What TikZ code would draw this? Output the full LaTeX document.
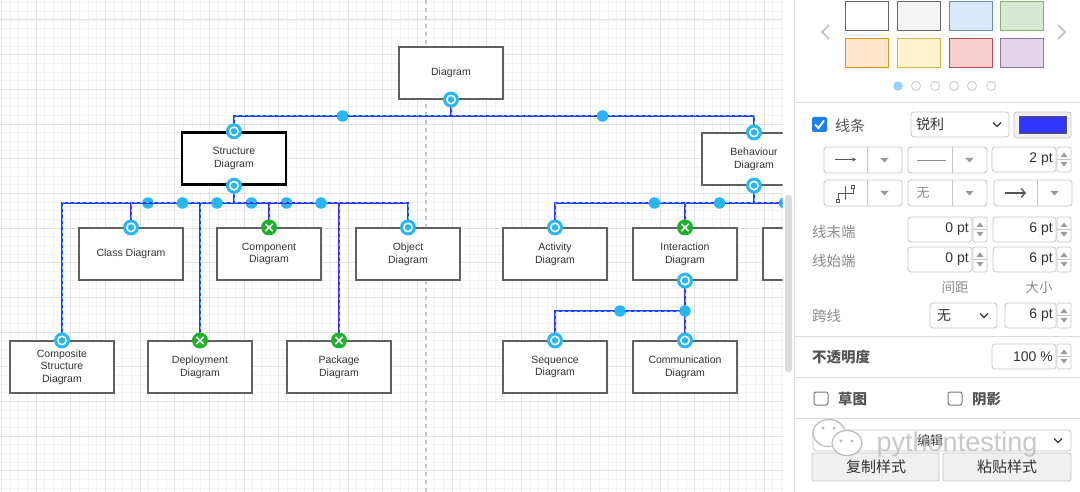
\documentclass[tikz,border=0pt]{standalone}
\usepackage{fontspec}
\setmainfont{Liberation Sans}
\newfontfamily\cjk{Noto Sans CJK SC}
\usetikzlibrary{positioning,arrows.meta}

\definecolor{edgeblue}{HTML}{3333FF}
\definecolor{hblue}{HTML}{29B6F2}
\definecolor{hgreen}{HTML}{1DB02B}
\definecolor{boxgray}{HTML}{606060}
\definecolor{txtdark}{HTML}{333333}
\definecolor{gridmin}{HTML}{F3F3F3}
\definecolor{gridmaj}{HTML}{E2E2E2}
\definecolor{pageline}{HTML}{C9C9C9}
\definecolor{panelline}{HTML}{DCDCDC}
\definecolor{widgetline}{HTML}{C6C6C6}
\definecolor{lblgray}{HTML}{8C8C8C}
\definecolor{lbldark}{HTML}{555555}
\definecolor{tri}{HTML}{9A9A9A}
\definecolor{thumb}{HTML}{DCDCDC}
\definecolor{chk}{HTML}{1E7EF0}
\definecolor{btnfill}{HTML}{F0F0F0}
\definecolor{wmgray}{HTML}{BBBBBB}
\definecolor{dotblue}{HTML}{8FD3F7}

\begin{document}
\begin{tikzpicture}[x=1pt,y=-1pt,
    uml/.style={draw=boxgray, line width=1.1pt, fill=white, minimum width=104pt,
      minimum height=52pt, inner sep=0pt, align=center, text=txtdark,
      font=\fontsize{10.5}{12.6}\selectfont},
    conn/.style={draw=hblue!80!white, line width=1pt, dash pattern=on 3pt off 3pt,
      preaction={draw=edgeblue, line width=2.5pt, solid}},
    midh/.style={circle, fill=hblue, minimum size=11.5pt, inner sep=0pt},
    endh/.style={circle, fill=hblue, minimum size=16pt, inner sep=0pt,
      path picture={\draw[white, line width=1.5pt] (path picture bounding box.center) circle (4.2pt);}},
    offh/.style={circle, fill=hgreen, minimum size=16pt, inner sep=0pt,
      path picture={\draw[white, line width=1.5pt] (path picture bounding box.center)
        +(-3.6pt,-3.6pt) -- +(3.6pt,3.6pt) +(-3.6pt,3.6pt) -- +(3.6pt,-3.6pt);}},
    pbox/.style={draw=widgetline, line width=0.8pt, fill=white, rounded corners=3pt},
    spin/.style={draw=widgetline, line width=0.7pt, fill=white, rounded corners=2pt},
    ptxt/.style={font=\fontsize{14}{16}\selectfont, text=txtdark, inner sep=0pt},
    plbl/.style={font=\cjk\fontsize{14.5}{16}\selectfont, text=lblgray, inner sep=0pt},
  ]
\useasboundingbox (0,0) rectangle (1080,492);

% canvas
\begin{scope}
  \clip (0,0) rectangle (782.5,492);
  \fill[white] (0,0) rectangle (783,492);
  \foreach \i in {0,...,90}
    \draw[gridmin, line width=0.8pt] ({1.33+8.667*\i},0) -- ++(0,492);
  \foreach \j in {0,...,56}
    \draw[gridmin, line width=0.8pt] (0,{2.67+8.667*\j}) -- ++(783,0);
  \foreach \i in {0,...,22}
    \draw[gridmaj, line width=1pt] ({1.33+34.67*\i},0) -- ++(0,492);
  \foreach \j in {0,...,13}
    \draw[gridmaj, line width=1pt] (0,{20+34.67*\j}) -- ++(783,0);
  \draw[pageline, line width=1.2pt, dash pattern=on 4pt off 4pt] (426,0) -- (426,492);

  % boxes
  \node[uml] (diag) at (451,73) {Diagram};
  \node[uml, draw=black, line width=2.4pt] (struct) at (234,158.5) {Structure\\Diagram};
  \node[uml] (behav) at (754,159) {Behaviour\\Diagram};
  \node[uml] (cls) at (131,254) {Class Diagram};
  \node[uml] (comp) at (269,254) {Component\\Diagram};
  \node[uml] (obj) at (408,254) {Object\\Diagram};
  \node[uml] (comps) at (62,367) {Composite\\Structure\\Diagram};
  \node[uml] (depl) at (200,367) {Deployment\\Diagram};
  \node[uml] (pkg) at (339,367) {Package\\Diagram};
  \node[uml] (act) at (555,254) {Activity\\Diagram};
  \node[uml] (inter) at (685,254) {Interaction\\Diagram};
  \node[uml] (third) at (815,254) {};
  \node[uml] (seq) at (555,367) {Sequence\\Diagram};
  \node[uml] (comm) at (685,367) {Communication\\Diagram};

  % connectors
  \coordinate (topbus) at (451,116);
  \coordinate (sbus) at (234,203);
  \coordinate (bbus) at (754,203);
  \coordinate (ibus) at (685,311);
  \foreach \c in {struct,behav} {
    \draw[conn] (diag.south) -- (topbus) -| (\c.north);
    \path (topbus) -- (topbus -| \c.north) node[midh, midway] (m\c) {};
  }
  \foreach \c in {comps,cls,depl,comp,pkg,obj} {
    \draw[conn] (struct.south) -- (sbus) -| (\c.north);
    \path (sbus) -- (sbus -| \c.north) node[midh, midway] (m\c) {};
  }
  \foreach \c in {act,inter,third} {
    \draw[conn] (behav.south) -- (bbus) -| (\c.north);
    \path (bbus) -- (bbus -| \c.north) node[midh, midway] (m\c) {};
  }
  \draw[conn] (inter.south) -- (ibus) -| (seq.north);
  \path (ibus) -- (ibus -| seq.north) node[midh, midway] (mseq) {};
  \draw[conn] (inter.south) -- (comm.north);
  \node[midh] (mcomm) at (ibus) {};

  % handles
  \foreach \h/\a in {diag/south, struct/north, struct/south, behav/north, behav/south,
      cls/north, obj/north, comps/north, act/north, inter/south, seq/north, comm/north}
    \node[endh] (e\h\a) at (\h.\a) {};
  \foreach \h in {comp,depl,pkg,inter}
    \node[offh] (x\h) at (\h.north) {};
\end{scope}

% side panel
\fill[white] (783,0) rectangle (1080,492);
\fill[thumb, rounded corners=3pt] (785,195) rectangle (792,372);
\draw[panelline, line width=1pt] (794,0) -- (794,492);
\foreach \y in {103,336,377,418}
  \draw[panelline, line width=1pt] (794,\y) -- (1080,\y);

% colour swatches
\draw[widgetline, line width=2pt] (829,25) -- (822,32) -- (829,39);
\draw[widgetline, line width=2pt] (1058,25) -- (1065,32) -- (1058,39);
\foreach \x/\y/\f/\d in {845/2/FFFFFF/666666, 897/2/F5F5F5/666666, 949/2/DAE8FC/6C8EBF,
    1000/2/D5E8D4/82B366, 845/39/FFE6CC/D79B00, 897/39/FFF2CC/D6B656,
    949/39/F8CECC/B85450, 1000/39/E1D5E7/9673A6} {
  \definecolor{swf}{HTML}{\f}\definecolor{swd}{HTML}{\d}
  \draw[draw=swd, fill=swf, line width=1pt] (\x,\y) rectangle ++(43,28.5);
}
\fill[dotblue] (898,86) circle (4.7pt);
\foreach \x in {916,935,954,972,991}
  \draw[widgetline, line width=0.8pt] (\x,86) circle (4.5pt);

% line row
\fill[chk, rounded corners=2pt] (812,117) rectangle (827,132);
\draw[white, line width=1.8pt] (815,124.5) -- (818.5,128) -- (824,120.5);
\node[plbl, text=lbldark, anchor=west, font=\cjk\fontsize{15}{16}\selectfont] (lline) at (835,125.5) {线条};
\draw[pbox] (911,112) rectangle (1009,137);
\node[ptxt, anchor=west, font=\cjk\fontsize{14}{16}\selectfont] (lsharp) at (916,124.5) {锐利};
\draw[txtdark, line width=1.3pt] (993,122.5) -- (997,126.5) -- (1001,122.5);
\draw[fill=btnfill, draw=widgetline, line width=0.8pt, rounded corners=3pt] (1014,112) rectangle (1071,138);
\fill[edgeblue, draw=lbldark, line width=0.6pt] (1019,116) rectangle (1066,133);

% buttons with drop arrows
\foreach \a/\b/\c/\y in {824/867/902/147, 908/952/987/147, 824/867/902/180,
    908/952/987/180, 994/1037/1072/180} {
  \draw[pbox] (\a,\y) rectangle (\c,\y+26);
  \draw[widgetline, line width=0.8pt] (\b,\y) -- (\b,\y+26);
  \fill[tri] ({(\b+\c)/2-4},\y+11) -- ({(\b+\c)/2+4},\y+11) -- ({(\b+\c)/2},\y+15.5) -- cycle;
}
\draw[lbldark, line width=1.1pt, -{Stealth[length=4pt,width=4pt]}] (835,159.5) -- (856,159.5);
\draw[lblgray, line width=0.8pt] (917,160) -- (946,160);
\draw[lbldark, line width=0.9pt] (838,199) |- (853,193) -- (853,188);
\draw[lbldark, line width=0.8pt] (836.5,199) rectangle (839.5,202);
\draw[lbldark, line width=0.8pt] (851.5,185) rectangle (854.5,188);
\draw[lbldark, line width=0.6pt, {Stealth[length=2pt]}-{Stealth[length=2pt]}] (845.5,186) -- (845.5,200);
\node[plbl, font=\cjk\fontsize{13}{14}\selectfont] (lnone) at (923,193) {无};
\draw[lbldark, line width=1.3pt, -{Straight Barb[length=4pt,width=9pt]}] (1005,193) -- (1026,193);

% value inputs and spinners
\foreach \a/\b/\y/\v in {992/1056/147/2 pt, 908/972/217/0 pt, 993/1056/217/6 pt,
    908/972/247/0 pt, 993/1056/247/6 pt, 1005/1056/303/6 pt, 992/1056/344/100 \%} {
  \draw[pbox] (\a,\y) rectangle (\b,\y+25);
  \node[ptxt, anchor=east] (v\a\y) at (\b-3,\y+12.5) {\v};
}
\foreach \x/\y in {1057/147, 973/217, 1057/217, 973/247, 1057/247, 1057/303, 1057/344} {
  \draw[spin] (\x,\y) rectangle (\x+14,\y+25);
  \draw[widgetline, line width=0.6pt] (\x,\y+12.5) -- (\x+14,\y+12.5);
  \fill[tri] (\x+3.5,\y+10) -- (\x+10.5,\y+10) -- (\x+7,\y+5.5) -- cycle;
  \fill[tri] (\x+3.5,\y+15) -- (\x+10.5,\y+15) -- (\x+7,\y+19.5) -- cycle;
}
\node[plbl, anchor=west] (lend) at (812,232) {线末端};
\node[plbl, anchor=west] (lstart) at (812,261) {线始端};
\node[plbl, font=\cjk\fontsize{13.5}{14}\selectfont] (lgap) at (955,287) {间距};
\node[plbl, font=\cjk\fontsize{13.5}{14}\selectfont] (lsize) at (1039,287) {大小};
\node[plbl, anchor=west] (ljump) at (812,316) {跨线};
\draw[pbox] (930,303) rectangle (997,328);
\node[ptxt, anchor=west, font=\cjk\fontsize{14}{16}\selectfont] (ljnone) at (937,315.5) {无};
\draw[txtdark, line width=1.3pt] (980,313.5) -- (984,317.5) -- (988,313.5);
\node[ptxt, anchor=west, text=lbldark, font=\cjk\bfseries\fontsize{14.5}{16}\selectfont] (lopac) at (812,357) {不透明度};

% check boxes
\draw[lbldark!80, line width=1pt, rounded corners=2pt] (814,392) rectangle (828,405);
\node[plbl, text=lbldark, anchor=west, font=\cjk\bfseries\fontsize{14.5}{16}\selectfont] (lsketch) at (838,399) {草图};
\draw[lbldark!80, line width=1pt, rounded corners=2pt] (948,392) rectangle (962,405);
\node[plbl, text=lbldark, anchor=west, font=\cjk\bfseries\fontsize{14.5}{16}\selectfont] (lshadow) at (972,399) {阴影};

% edit menu and copy / paste buttons
\draw[pbox] (813,430) rectangle (1071,451);
\node[ptxt, font=\cjk\fontsize{13}{14}\selectfont] (ledit) at (930,440.5) {编辑};
\draw[txtdark, line width=1.3pt] (1054,438.5) -- (1058,442.5) -- (1062,438.5);
\draw[fill=btnfill, draw=widgetline, line width=0.8pt, rounded corners=2pt] (812,453) rectangle (939,481);
\node[ptxt, font=\cjk\fontsize{15}{16}\selectfont] (lcopy) at (876,467) {复制样式};
\draw[fill=btnfill, draw=widgetline, line width=0.8pt, rounded corners=2pt] (943,453) rectangle (1071,481);
\node[ptxt, font=\cjk\fontsize{15}{16}\selectfont] (lpaste) at (1007,467) {粘贴样式};

% watermark
\draw[wmgray, fill=white, line width=1.2pt] (829,433) ellipse [x radius=16pt, y radius=13.5pt];
\draw[wmgray, fill=white, line width=1.2pt] (847,443) ellipse [x radius=15pt, y radius=12.5pt];
\foreach \x/\y in {823/428, 834/428, 841/441, 852/441}
  \fill[wmgray] (\x,\y) circle (1.6pt);
\node[text=wmgray, opacity=0.8, font=\fontsize{27}{28}\selectfont, inner sep=0pt] (wm) at (957,445) {pythontesting};
\end{tikzpicture}
\end{document}
